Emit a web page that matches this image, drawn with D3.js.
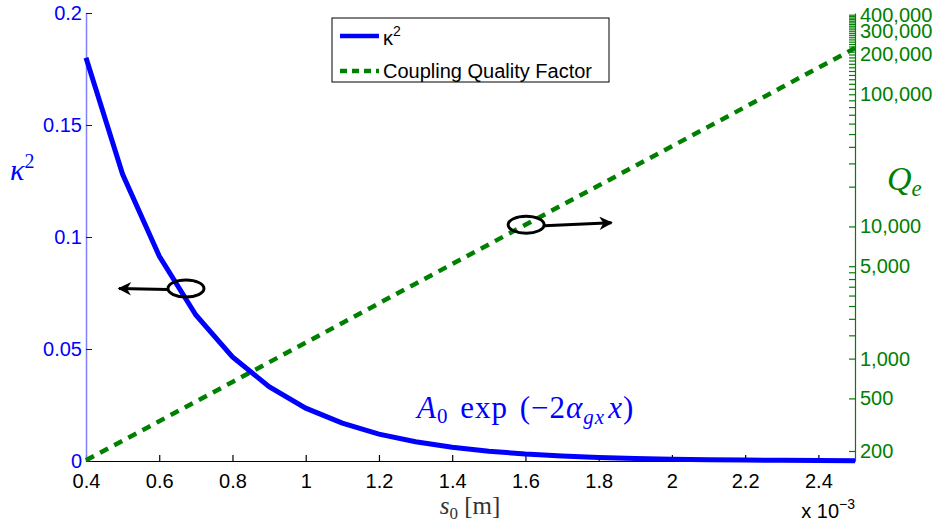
<!DOCTYPE html>
<html>
<head>
<meta charset="utf-8">
<script src="https://cdn.jsdelivr.net/npm/d3@7"></script>
<style>
  body { margin: 0; background: #fff; }
  svg { display: block; }
  .tick text { font-family: "Liberation Sans", Arial, sans-serif; }
  .math { font-family: "Liberation Serif", "DejaVu Serif", serif; }
</style>
</head>
<body>
<svg></svg>
<script>

// s0 in units of 1e-3 m
const s0 = [0.4, 0.5, 0.6, 0.7, 0.8, 0.9, 1.0, 1.1, 1.2, 1.3, 1.4,
            1.5, 1.6, 1.7, 1.8, 1.9, 2.0, 2.1, 2.2, 2.3, 2.4, 2.5]

const kappa2 = [0.18, 0.128, 0.0915, 0.0652, 0.0465, 0.0332, 0.0236, 0.0169,
                0.012, 0.0086, 0.0061, 0.0044, 0.0031, 0.0022, 0.0016, 0.0011,
                0.0008, 0.0006, 0.0004, 0.0003, 0.0002, 0.00015]

const couplingQ = [170, 239, 336, 473, 666, 938, 1320, 1860, 2620, 3690, 5190,
                   7310, 10300, 14500, 20400, 28700, 40400, 56900, 80100,
                   112800, 158800, 223600]

const xTicks = [0.4, 0.6, 0.8, 1, 1.2, 1.4, 1.6, 1.8, 2, 2.2, 2.4]
const leftTicks = [0, 0.05, 0.1, 0.15, 0.2]
const rightTicks = [200, 500, 1000, 1500, 2000, 2500, 3000, 3500, 4000, 4500, 5000,
    10000, 20000, 30000, 40000, 50000, 60000, 70000, 80000, 90000,
    100000, 110000, 120000, 130000, 140000, 150000, 160000, 170000, 180000, 190000,
    200000, 210000, 220000, 230000, 240000, 250000, 260000, 270000, 280000, 290000,
    300000, 310000, 320000, 330000, 340000, 350000, 360000, 370000, 380000, 390000,
    400000]
const rightLabels = [200, 500, 1000, 5000, 10000, 100000, 200000, 300000, 400000]

const blue = "#0000ff"
const green = "#008000"

const svg = d3.select("svg")
    .attr("width", 941)
    .attr("height", 527)

const plotLeft = 86, plotRight = 855, plotTop = 13, plotBottom = 461

const x = d3.scaleLinear().domain([0.4, 2.5]).range([plotLeft, plotRight])
const yL = d3.scaleLinear().domain([0, 0.2]).range([plotBottom, plotTop])
const yR = d3.scaleLog().domain([168, 412000]).range([plotBottom, plotTop])

// x axis
const xAxis = svg.append("g")
    .attr("transform", `translate(0, ${plotBottom})`)
    .call(d3.axisBottom(x).tickValues(xTicks).tickSize(-6).tickSizeOuter(0)
        .tickPadding(13).tickFormat(d3.format("")))
xAxis.selectAll("path, line").attr("stroke", "#000").attr("stroke-width", 1.2)
xAxis.selectAll("text").attr("fill", "#000").style("font-size", "20px")

// left axis
const lAxis = svg.append("g")
    .attr("transform", `translate(${plotLeft}, 0)`)
    .call(d3.axisLeft(yL).tickValues(leftTicks).tickSize(-6).tickSizeOuter(0)
        .tickPadding(4).tickFormat(d3.format("")))
lAxis.select("path").attr("stroke", "#8080ff").attr("stroke-width", 1.5)
lAxis.selectAll("line").attr("stroke", blue)
lAxis.selectAll("text").attr("fill", blue).style("font-size", "20px")

// right axis (log)
const rAxis = svg.append("g")
    .attr("transform", `translate(${plotRight}, 0)`)
    .call(d3.axisRight(yR).tickValues(rightTicks).tickSize(-6).tickSizeOuter(0)
        .tickPadding(5)
        .tickFormat(d => rightLabels.includes(d) ? d3.format(",")(d) : ""))
rAxis.selectAll("path, line").attr("stroke", green).attr("stroke-width", 1.2)
rAxis.selectAll("text").attr("fill", green).style("font-size", "20px")

// coupling quality factor (right axis)
const qLine = d3.line()
    .x((d, i) => x(s0[i]))
    .y(d => yR(d))

svg.append("path")
    .attr("d", qLine(couplingQ))
    .attr("fill", "none")
    .attr("stroke", green)
    .attr("stroke-width", 4.5)
    .attr("stroke-dasharray", "9,7")

// kappa^2 (left axis)
const kLine = d3.line()
    .x((d, i) => x(s0[i]))
    .y(d => yL(d))

svg.append("path")
    .attr("d", kLine(kappa2))
    .attr("fill", "none")
    .attr("stroke", blue)
    .attr("stroke-width", 5)

// arrow marker
svg.append("defs").append("marker")
    .attr("id", "head")
    .attr("viewBox", "0 0 10 10")
    .attr("refX", 9).attr("refY", 5)
    .attr("markerWidth", 5.5).attr("markerHeight", 4.5)
    .attr("markerUnits", "strokeWidth")
    .attr("orient", "auto")
    .append("path")
    .attr("d", "M0,0 L10,5 L0,10 L3,5 Z")
    .attr("fill", "#000")

// annotation ellipses + arrows
const ell1 = { cx: x(0.673), cy: yL(0.077) }
const ell2 = { cx: x(1.602), cy: yR(10300) }

svg.append("ellipse")
    .attr("cx", ell1.cx).attr("cy", ell1.cy)
    .attr("rx", 18).attr("ry", 8.5)
    .attr("fill", "none").attr("stroke", "#000").attr("stroke-width", 3)
svg.append("line")
    .attr("x1", ell1.cx - 18).attr("y1", ell1.cy + 1)
    .attr("x2", x(0.49)).attr("y2", ell1.cy)
    .attr("stroke", "#000").attr("stroke-width", 3)
    .attr("marker-end", "url(#head)")

svg.append("ellipse")
    .attr("cx", ell2.cx).attr("cy", ell2.cy)
    .attr("rx", 18).attr("ry", 8.5)
    .attr("fill", "none").attr("stroke", "#000").attr("stroke-width", 3)
svg.append("line")
    .attr("x1", ell2.cx + 18).attr("y1", ell2.cy + 1)
    .attr("x2", x(1.835)).attr("y2", ell2.cy - 2)
    .attr("stroke", "#000").attr("stroke-width", 3)
    .attr("marker-end", "url(#head)")

// legend
const legend = svg.append("g").attr("transform", "translate(332, 18)")
legend.append("rect")
    .attr("width", 277).attr("height", 64)
    .attr("fill", "#fff").attr("stroke", "#000").attr("stroke-width", 1)
legend.append("line")
    .attr("x1", 8).attr("x2", 47).attr("y1", 18).attr("y2", 18)
    .attr("stroke", blue).attr("stroke-width", 4.5)
legend.append("text")
    .attr("x", 51).attr("y", 27)
    .style("font-family", "Liberation Sans, Arial, sans-serif")
    .style("font-size", "20px")
    .html('κ<tspan dy="-9" font-size="14px">2</tspan>')
legend.append("line")
    .attr("x1", 8).attr("x2", 47).attr("y1", 53).attr("y2", 53)
    .attr("stroke", green).attr("stroke-width", 4.5)
    .attr("stroke-dasharray", "7,5")
legend.append("text")
    .attr("x", 51).attr("y", 60)
    .style("font-family", "Liberation Sans, Arial, sans-serif")
    .style("font-size", "20px")
    .text("Coupling Quality Factor")

// axis titles
svg.append("text")
    .attr("class", "math")
    .attr("x", 470).attr("y", 514)
    .attr("text-anchor", "middle")
    .attr("fill", "#333")
    .style("font-size", "25px")
    .html('<tspan font-style="italic">s</tspan><tspan dy="5" font-size="17px">0</tspan><tspan dy="-5"> [m]</tspan>')

svg.append("text")
    .attr("x", 855).attr("y", 518)
    .attr("text-anchor", "end")
    .style("font-family", "Liberation Sans, Arial, sans-serif")
    .style("font-size", "20px")
    .attr("fill", "#000")
    .html('x 10<tspan dy="-9" font-size="14px">−3</tspan>')

svg.append("text")
    .attr("class", "math")
    .attr("x", 10).attr("y", 180)
    .attr("fill", blue)
    .style("font-size", "30px")
    .html('<tspan font-style="italic">κ</tspan><tspan dy="-12" font-size="20px">2</tspan>')

svg.append("text")
    .attr("class", "math")
    .attr("x", 887).attr("y", 190)
    .attr("fill", green)
    .style("font-size", "34px")
    .html('<tspan font-style="italic">Q</tspan><tspan dy="6" font-size="23px" font-style="italic">e</tspan>')

svg.append("text")
    .attr("class", "math")
    .attr("x", 417).attr("y", 418)
    .attr("fill", blue)
    .style("font-size", "31px")
    .style("letter-spacing", "1px")
    .style("word-spacing", "3px")
    .html('<tspan font-style="italic">A</tspan><tspan dy="5" font-size="21px">0</tspan>' +
          '<tspan dy="-5"> exp (−2</tspan><tspan font-style="italic">α</tspan>' +
          '<tspan dy="6" font-size="21px" font-style="italic">gx</tspan>' +
          '<tspan dy="-6" dx="3" font-style="italic">x</tspan><tspan>)</tspan>')

</script>
</body>
</html>
